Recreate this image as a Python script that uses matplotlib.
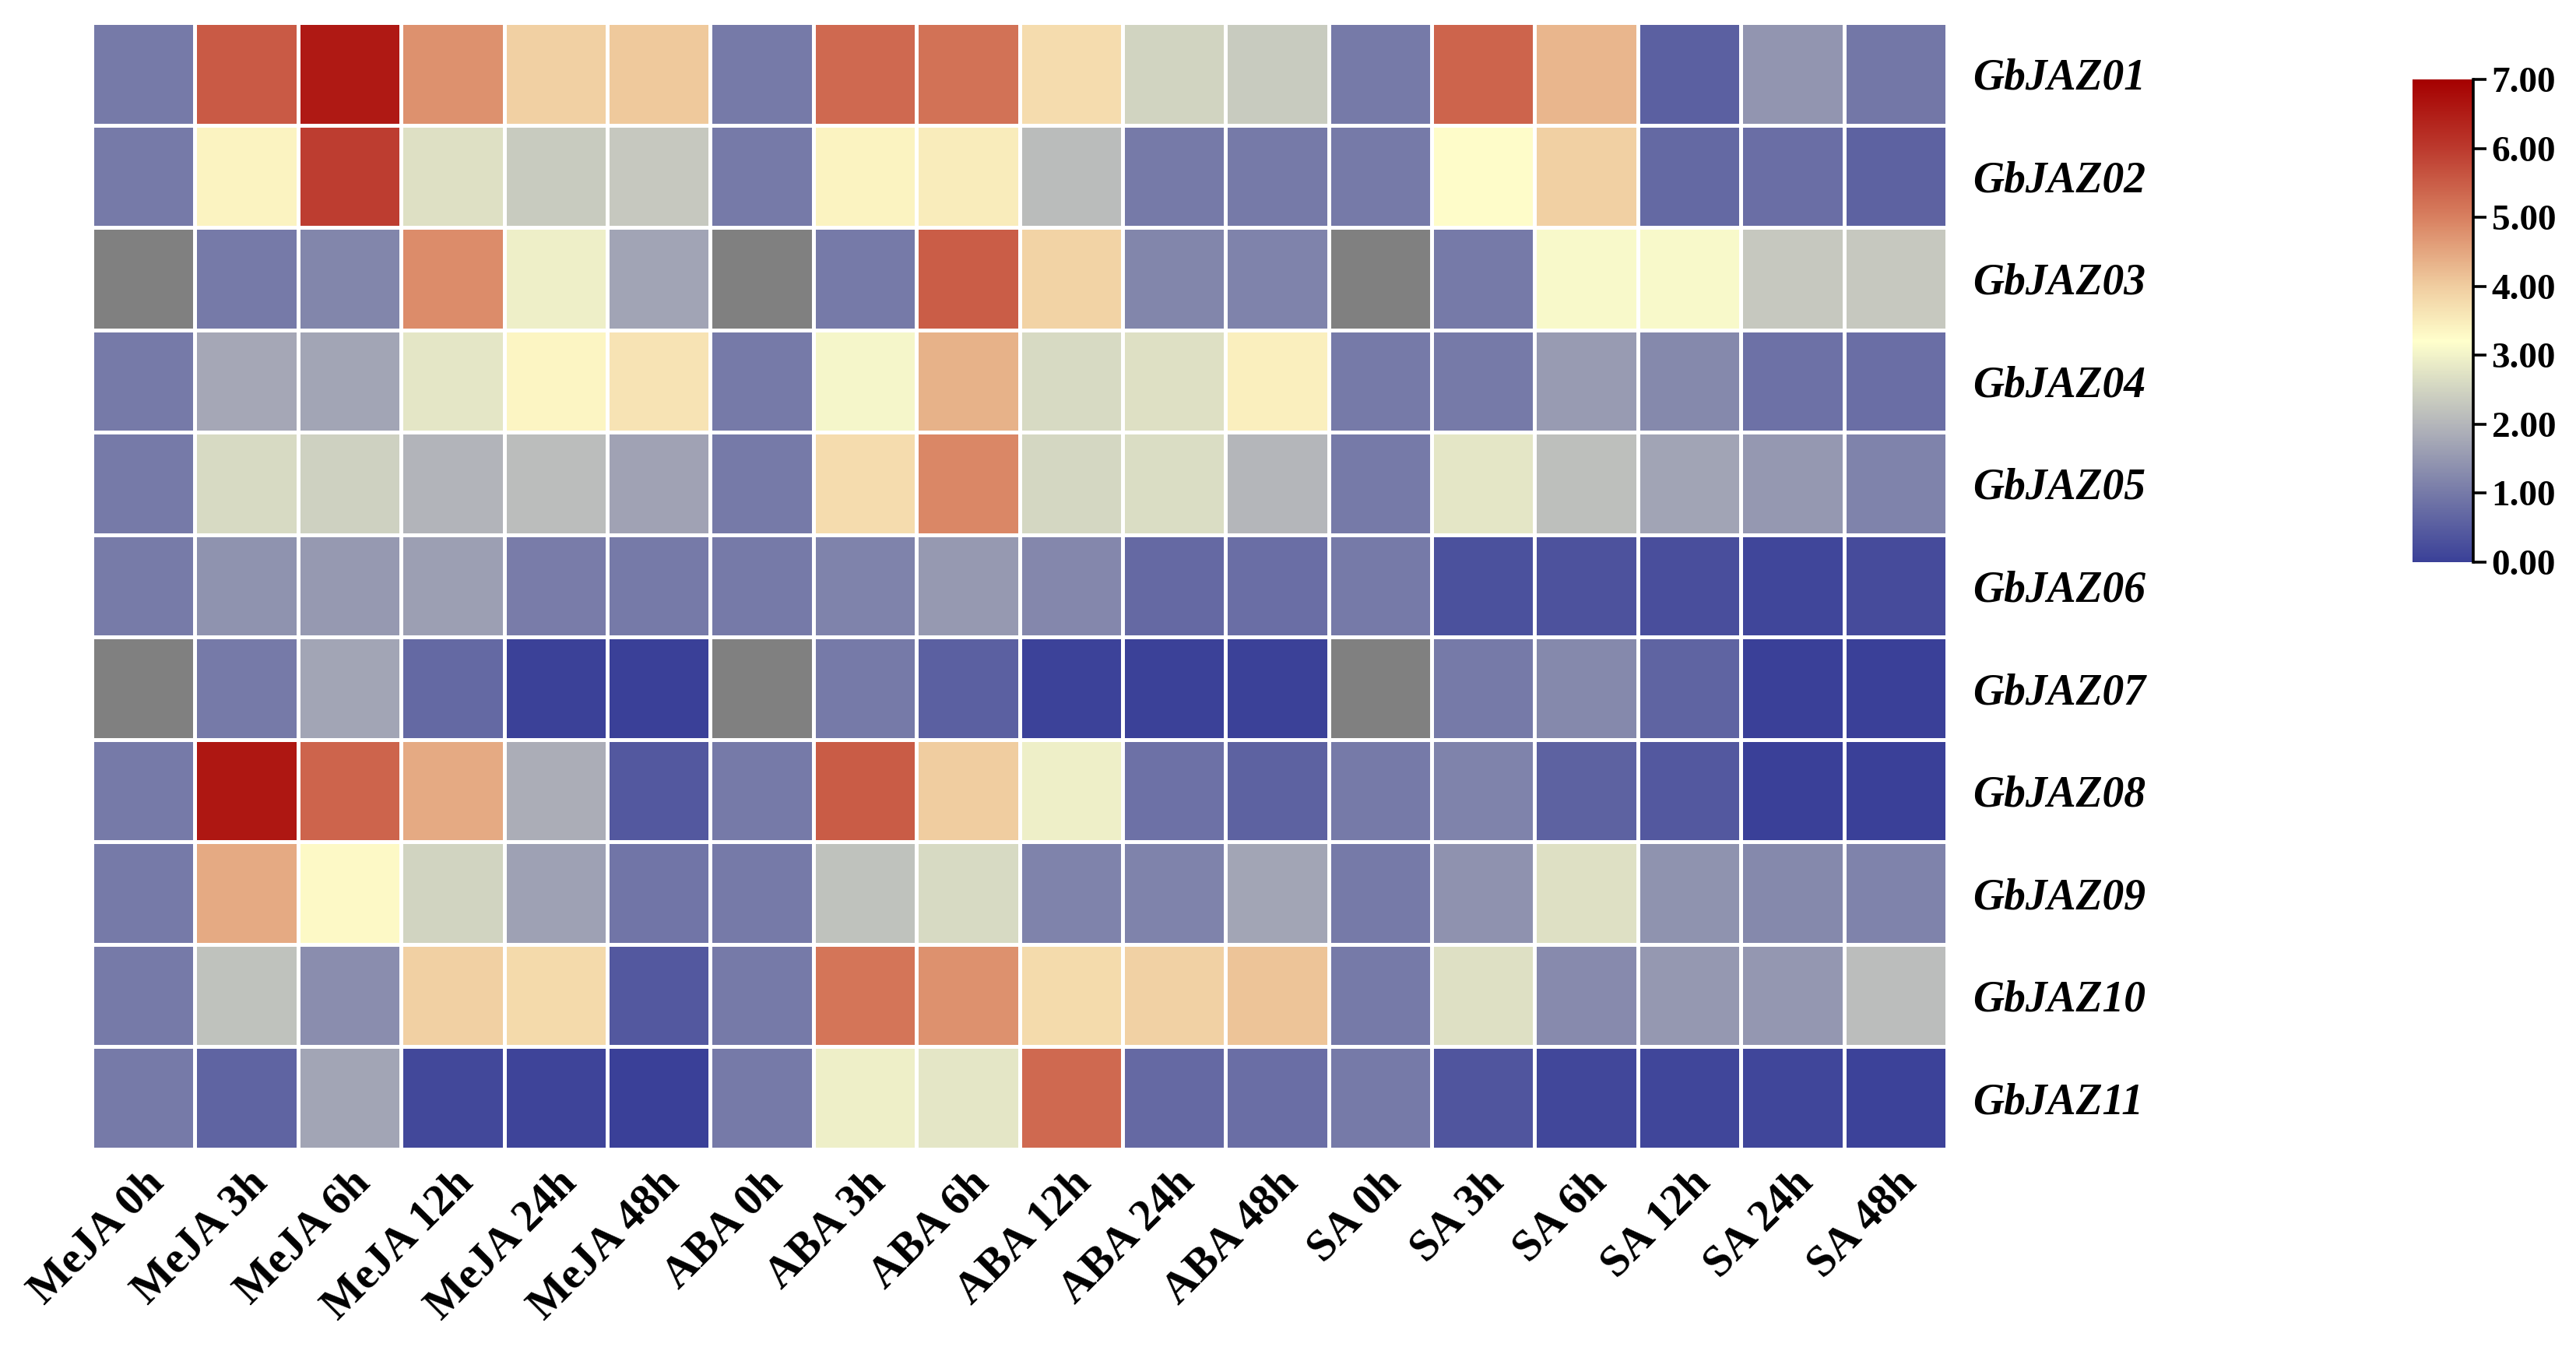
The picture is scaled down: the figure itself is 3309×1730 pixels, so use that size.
import numpy as np
import matplotlib
matplotlib.use("Agg")
import matplotlib.pyplot as plt
from matplotlib.colors import LinearSegmentedColormap

# condiciones (columnas) y genes (filas)
conditions = ["MeJA 0h", "MeJA 3h", "MeJA 6h", "MeJA 12h", "MeJA 24h", "MeJA 48h",
              "ABA 0h", "ABA 3h", "ABA 6h", "ABA 12h", "ABA 24h", "ABA 48h",
              "SA 0h", "SA 3h", "SA 6h", "SA 12h", "SA 24h", "SA 48h"]
genes = ["GbJAZ01", "GbJAZ02", "GbJAZ03", "GbJAZ04", "GbJAZ05", "GbJAZ06",
         "GbJAZ07", "GbJAZ08", "GbJAZ09", "GbJAZ10", "GbJAZ11"]

nan = np.nan
GbJAZ01 = [1.0, 5.55, 6.55, 4.78, 3.95, 4.05, 1.0, 5.33, 5.2, 3.75, 2.5, 2.35, 1.0, 5.4, 4.3, 0.55, 1.45, 0.95]
GbJAZ02 = [1.0, 3.4, 5.95, 2.7, 2.35, 2.3, 1.0, 3.4, 3.5, 2.1, 1.0, 1.0, 1.0, 3.25, 3.95, 0.7, 0.8, 0.6]
GbJAZ03 = [nan, 1.0, 1.2, 4.85, 2.95, 1.7, nan, 1.0, 5.5, 3.9, 1.2, 1.15, nan, 1.0, 3.1, 3.1, 2.3, 2.3]
GbJAZ04 = [1.0, 1.75, 1.72, 2.8, 3.35, 3.65, 1.0, 3.05, 4.35, 2.6, 2.7, 3.45, 1.0, 1.0, 1.55, 1.25, 0.85, 0.8]
GbJAZ05 = [1.0, 2.6, 2.45, 1.98, 2.12, 1.68, 1.0, 3.75, 4.9, 2.55, 2.65, 2.0, 1.0, 2.8, 2.15, 1.7, 1.5, 1.15]
GbJAZ06 = [1.02, 1.42, 1.52, 1.62, 1.05, 1.0, 1.0, 1.15, 1.52, 1.22, 0.72, 0.8, 1.0, 0.3, 0.32, 0.25, 0.1, 0.2]
GbJAZ07 = [nan, 1.0, 1.72, 0.7, 0.02, 0.0, nan, 1.0, 0.55, 0.05, 0.02, 0.02, nan, 1.0, 1.25, 0.62, 0.0, 0.0]
GbJAZ08 = [1.0, 6.6, 5.4, 4.45, 1.85, 0.42, 1.0, 5.52, 4.0, 2.95, 0.85, 0.6, 1.0, 1.15, 0.6, 0.42, 0.0, 0.0]
GbJAZ09 = [1.0, 4.45, 3.3, 2.5, 1.65, 0.92, 1.0, 2.2, 2.6, 1.15, 1.15, 1.72, 1.0, 1.4, 2.7, 1.42, 1.25, 1.15]
GbJAZ10 = [1.0, 2.2, 1.32, 3.95, 3.8, 0.42, 1.0, 5.15, 4.78, 3.78, 3.93, 4.12, 1.0, 2.7, 1.28, 1.5, 1.48, 2.13]
GbJAZ11 = [1.0, 0.62, 1.72, 0.15, 0.08, 0.0, 1.0, 2.95, 2.8, 5.33, 0.72, 0.8, 1.0, 0.38, 0.13, 0.1, 0.1, 0.05]

datos = np.array([GbJAZ01, GbJAZ02, GbJAZ03, GbJAZ04, GbJAZ05, GbJAZ06,
                  GbJAZ07, GbJAZ08, GbJAZ09, GbJAZ10, GbJAZ11])

# escala de color azul -> amarillo -> rojo
stops = [(0.0, "#3a4098"), (1.0, "#767aa8"), (2.0, "#b4b6ba"), (2.6, "#d7dac3"),
         (3.2, "#ffffcc"), (4.0, "#f0cda0"), (5.0, "#d88060"), (6.0, "#bc3a2e"),
         (7.0, "#a50000")]
cmap = LinearSegmentedColormap.from_list("jaz", [(v / 7.0, c) for v, c in stops], N=512)
cmap.set_bad("#808080")

plt.rcParams["font.family"] = ["Liberation Serif", "DejaVu Serif"]

fig = plt.figure(figsize=(33.09, 17.30), dpi=100)
ax = fig.add_axes([118 / 3309, 1 - 1476 / 1730, (2501 - 118) / 3309, (1476 - 29) / 1730])

mesh = ax.pcolormesh(np.ma.masked_invalid(datos), cmap=cmap, vmin=0, vmax=7,
                     edgecolors="white", linewidth=2.2)
ax.set_xlim(0, len(conditions))
ax.set_ylim(len(genes), 0)
for s in ax.spines.values():
    s.set_visible(False)

ax.set_xticks(np.arange(len(conditions)) + 0.5)
ax.set_xticklabels(conditions, rotation=45, ha="right", rotation_mode="anchor",
                   fontsize=41, fontweight="bold")
ax.yaxis.tick_right()
ax.set_yticks(np.arange(len(genes)) + 0.5)
ax.set_yticklabels(genes, fontsize=40, fontweight="bold", fontstyle="italic")
ax.tick_params(axis="x", length=0, pad=12)
ax.tick_params(axis="y", length=0, pad=24)

# barra de color
cax = fig.add_axes([3099 / 3309, 1 - 722 / 1730, 78 / 3309, 620 / 1730])
cbar = fig.colorbar(mesh, cax=cax, ticks=np.arange(0, 8, 1))
cbar.outline.set_visible(False)
cax.spines["right"].set_visible(True)
cax.spines["right"].set_linewidth(2.6)
cax.tick_params(axis="y", length=12, width=2.6, labelsize=34, pad=5)
cax.set_yticklabels(["%.2f" % t for t in range(8)], fontweight="bold")

fig.savefig("out.png", dpi=100, facecolor="white")
